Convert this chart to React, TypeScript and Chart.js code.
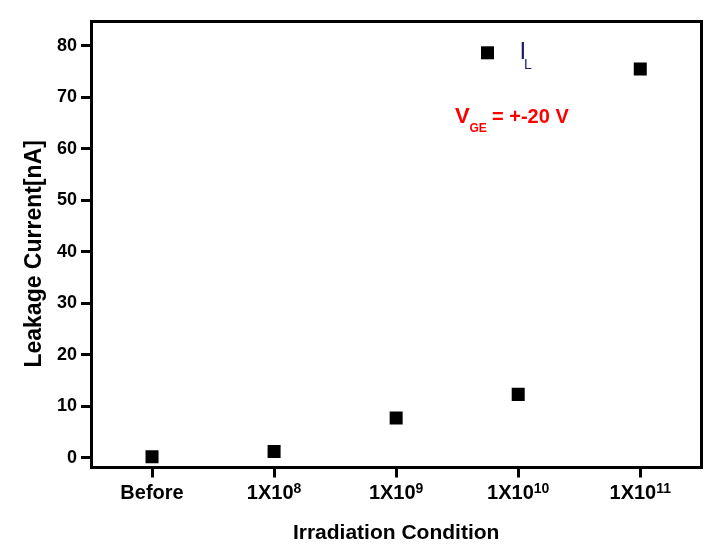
import React, { useEffect, useRef } from 'react';
import { Chart, registerables } from 'chart.js';

Chart.register(...registerables);

const categories = ['Before', '1X10^8', '1X10^9', '1X10^10', '1X10^11'];
const leakageCurrent = [0.2, 1.2, 7.7, 12.3, 75.5];
const yTicks = [0, 10, 20, 30, 40, 50, 60, 70, 80];
const yRange = [-1.9, 84.8];
const seriesName = ['I', 'L'];
const conditionNote = ['V', 'GE', '= +-20 V'];
const xTitle = 'Irradiation Condition';
const yTitle = 'Leakage Current[nA]';

const FAMILY = '"Liberation Sans", Arial, Helvetica, sans-serif';
const f = (weight: string, size: number) => `${weight} ${size}px ${FAMILY}`;

const overlayPlugin = {
  id: 'overlay',
  afterDraw(chart: any) {
    const { ctx, chartArea: ca, scales } = chart;
    const xs = scales.x;
    ctx.save();
    // frame (top and right edges of the box)
    const al = (p: number) => Math.round(p - 1.5) + 1.5;
    ctx.strokeStyle = '#000';
    ctx.lineWidth = 3;
    ctx.strokeRect(al(ca.left), al(ca.top), al(ca.right) - al(ca.left), al(ca.bottom) - al(ca.top));

    // x tick labels with superscripts
    ctx.fillStyle = '#000';
    ctx.textAlign = 'left';
    ctx.textBaseline = 'alphabetic';
    categories.forEach((cat, i) => {
      const [base, exp] = cat.split('^');
      const x = xs.getPixelForTick(i);
      ctx.font = f('bold', 20);
      const bw = ctx.measureText(base).width;
      let ew = 0;
      if (exp) {
        ctx.font = f('bold', 14);
        ew = ctx.measureText(exp).width;
      }
      const start = x - (bw + ew) / 2;
      ctx.font = f('bold', 20);
      ctx.fillText(base, start, xs.top + 31.5);
      if (exp) {
        ctx.font = f('bold', 14);
        ctx.fillText(exp, start + bw, xs.top + 25);
      }
    });

    // legend
    const lx = ca.left + 396.5;
    const ly = ca.top + 31.8;
    ctx.fillStyle = '#000';
    ctx.fillRect(lx - 6.5, ly - 6.5, 13, 13);
    ctx.fillStyle = '#1a1a66';
    ctx.font = f('normal', 24);
    ctx.fillText(seriesName[0], lx + 32, ly + 6);
    ctx.font = f('normal', 14);
    ctx.fillText(seriesName[1], lx + 36.5, ly + 16);

    // condition annotation
    const vx = ca.left + 364;
    const vy = ca.top + 102;
    ctx.fillStyle = '#ff0000';
    ctx.font = f('bold', 22);
    ctx.fillText(conditionNote[0], vx, vy);
    ctx.font = f('bold', 12);
    ctx.fillText(conditionNote[1], vx + 14.5, vy + 9);
    ctx.font = f('bold', 20);
    ctx.fillText(conditionNote[2], vx + 37, vy);
    ctx.restore();
  },
};

export default function App() {
  const ref = useRef<HTMLCanvasElement | null>(null);
  useEffect(() => {
    if (!ref.current) return;
    const chart = new Chart(ref.current, {
      type: 'line',
      data: {
        labels: categories,
        datasets: [
          {
            label: seriesName.join(''),
            data: leakageCurrent,
            showLine: false,
            pointStyle: 'rect',
            pointRadius: 9.2,
            pointHoverRadius: 9.2,
            pointBackgroundColor: '#000',
            pointBorderColor: '#000',
            pointBorderWidth: 0,
          },
        ],
      },
      options: {
        animation: false,
        responsive: true,
        maintainAspectRatio: false,
        layout: { autoPadding: false, padding: { top: 21, right: 6.7, bottom: 0, left: 0 } },
        plugins: { legend: { display: false }, tooltip: { enabled: false } },
        events: [],
        scales: {
          x: {
            type: 'category',
            offset: true,
            afterFit: (s: any) => {
              s.height = 91.5;
              s.paddingLeft = 0;
              s.paddingRight = 0;
            },
            grid: { drawOnChartArea: false, drawTicks: true, tickLength: 10, lineWidth: 3, color: '#000', offset: false },
            border: { display: true, width: 3, color: '#000' },
            ticks: { display: false },
            title: {
              display: true,
              text: xTitle,
              color: '#000',
              font: { family: FAMILY, size: 21, weight: 'bold' },
              padding: { top: 0, bottom: 13 },
            },
          },
          y: {
            type: 'linear',
            min: yRange[0],
            max: yRange[1],
            afterFit: (s: any) => {
              s.width = 91;
            },
            afterBuildTicks: (s: any) => {
              s.ticks = yTicks.map((v) => ({ value: v }));
            },
            grid: { drawOnChartArea: false, drawTicks: true, tickLength: 10, lineWidth: 3, color: '#000' },
            border: { display: true, width: 3, color: '#000' },
            ticks: { color: '#000', padding: 4, font: { family: FAMILY, size: 18, weight: 'bold' } },
            title: {
              display: true,
              text: yTitle + '   ',
              color: '#000',
              font: { family: FAMILY, size: 23, weight: 'bold' },
              padding: { top: 21, bottom: 0 },
            },
          },
        },
      },
      plugins: [overlayPlugin],
    });
    return () => chart.destroy();
  }, []);
  return (
    <div style={{ position: 'fixed', left: 0, top: 0, width: 708, height: 559, background: '#fff' }}>
      <canvas ref={ref} />
    </div>
  );
}
